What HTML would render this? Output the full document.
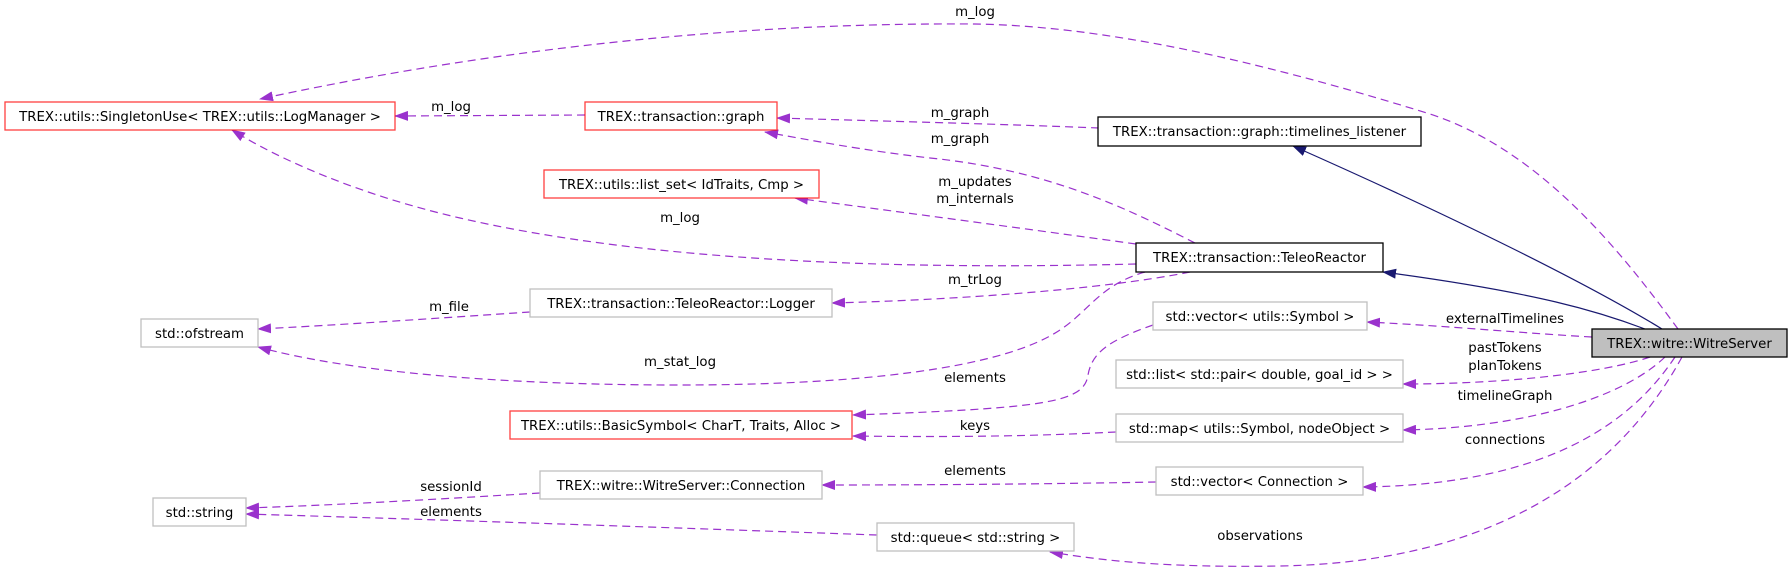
<!DOCTYPE html>
<html><head><meta charset="utf-8"><style>
html,body{margin:0;padding:0;background:#fff;}
svg{display:block;}
text{font-family:"DejaVu Sans","Liberation Sans",sans-serif;font-size:13.3px;fill:#000;}
.l{text-anchor:middle;}
.e{fill:none;stroke:#9a32cd;stroke-width:1.2;stroke-dasharray:8,5;}
.s{fill:none;stroke:#191970;stroke-width:1.2;}
.r{fill:#fff;stroke:#ff0000;stroke-opacity:.75;stroke-width:1.3;}
.g{fill:#fff;stroke:#bfbfbf;stroke-width:1.3;}
.b{fill:#fff;stroke:#000;stroke-width:1.3;}
</style></head><body>
<svg width="1792" height="571" viewBox="0 0 1792 571" xmlns="http://www.w3.org/2000/svg">
<defs>
<marker id="ap" markerWidth="14" markerHeight="10" refX="13" refY="5" orient="auto" markerUnits="userSpaceOnUse"><path d="M0,0 L14,5 L0,10 Z" fill="#9a32cd"/></marker>
<marker id="an" markerWidth="14" markerHeight="10" refX="13" refY="5" orient="auto" markerUnits="userSpaceOnUse"><path d="M0,0 L14,5 L0,10 Z" fill="#191970"/></marker>
</defs>
<!-- edges -->
<path class="e" marker-end="url(#ap)" d="M1678,329 C1620,250 1540,150 1430,114 C1250,58 1100,26 975,24 C700,22 450,58 260,99"/>
<path class="s" marker-end="url(#an)" d="M1662,329 C1590,285 1460,220 1293,146"/>
<path class="s" marker-end="url(#an)" d="M1645,329 C1600,312 1540,293 1383,272"/>
<path class="e" marker-end="url(#ap)" d="M1592,337 C1520,333 1450,326 1367,322"/>
<path class="e" marker-end="url(#ap)" d="M1650,357 C1600,374 1500,384 1403,384"/>
<path class="e" marker-end="url(#ap)" d="M1665,357 C1620,400 1520,428 1403,430"/>
<path class="e" marker-end="url(#ap)" d="M1675,357 C1620,440 1520,485 1363,487"/>
<path class="e" marker-end="url(#ap)" d="M1682,357 C1620,470 1500,562 1280,566 C1160,568 1100,560 1050,552"/>
<path class="e" marker-end="url(#ap)" d="M585,115 L395,116"/>
<path class="e" marker-end="url(#ap)" d="M1099,128 C1000,124 880,121 777,118"/>
<path class="e" marker-end="url(#ap)" d="M1195,243 C1130,210 1050,170 930,158 C860,150 810,140 765,132"/>
<path class="e" marker-end="url(#ap)" d="M1136,244 C1020,228 900,212 795,198"/>
<path class="e" marker-end="url(#ap)" d="M1136,264 C900,270 650,262 460,218 C360,195 280,160 232,130"/>
<path class="e" marker-end="url(#ap)" d="M1190,272 C1100,290 950,300 832,303"/>
<path class="e" marker-end="url(#ap)" d="M530,312 C440,318 340,325 258,329"/>
<path class="e" marker-end="url(#ap)" d="M1145,272 C1100,285 1090,310 1060,330 C1000,370 850,385 680,385 C500,385 350,372 258,347"/>
<path class="e" marker-end="url(#ap)" d="M1153,325 C1110,340 1092,352 1088,375 C1084,402 1050,408 853,415"/>
<path class="e" marker-end="url(#ap)" d="M1116,432 C1020,437 930,437 853,436"/>
<path class="e" marker-end="url(#ap)" d="M1156,482 C1050,484 930,485 822,485"/>
<path class="e" marker-end="url(#ap)" d="M540,493 C440,499 340,505 246,508"/>
<path class="e" marker-end="url(#ap)" d="M877,535 C680,528 450,520 246,514"/>
<!-- nodes -->
<rect class="r" x="5" y="102" width="390" height="28"/><text x="200" y="121" class="l">TREX::utils::SingletonUse&lt; TREX::utils::LogManager &gt;</text>
<rect class="r" x="585" y="102" width="192" height="28"/><text x="681" y="121" class="l">TREX::transaction::graph</text>
<rect class="b" x="1098" y="117" width="323" height="29"/><text x="1259.5" y="136" class="l">TREX::transaction::graph::timelines_listener</text>
<rect class="r" x="544" y="170" width="275" height="28"/><text x="681.5" y="189" class="l">TREX::utils::list_set&lt; IdTraits, Cmp &gt;</text>
<rect class="b" x="1136" y="243" width="247" height="29"/><text x="1259.5" y="262" class="l">TREX::transaction::TeleoReactor</text>
<rect class="g" x="530" y="289" width="302" height="28"/><text x="681" y="308" class="l">TREX::transaction::TeleoReactor::Logger</text>
<rect class="g" x="141" y="319" width="117" height="28"/><text x="199.5" y="338" class="l">std::ofstream</text>
<rect class="g" x="1153" y="302" width="214" height="28"/><text x="1260" y="321" class="l">std::vector&lt; utils::Symbol &gt;</text>
<rect x="1592" y="329" width="195" height="28" fill="#bfbfbf" stroke="#000" stroke-width="1.3"/><text x="1689.5" y="348" class="l">TREX::witre::WitreServer</text>
<rect class="g" x="1116" y="360" width="287" height="28"/><text x="1259.5" y="379" class="l">std::list&lt; std::pair&lt; double, goal_id &gt; &gt;</text>
<rect class="r" x="510" y="411" width="342" height="28"/><text x="681" y="430" class="l">TREX::utils::BasicSymbol&lt; CharT, Traits, Alloc &gt;</text>
<rect class="g" x="1116" y="414" width="287" height="28"/><text x="1259.5" y="433" class="l">std::map&lt; utils::Symbol, nodeObject &gt;</text>
<rect class="g" x="540" y="471" width="282" height="28"/><text x="681" y="490" class="l">TREX::witre::WitreServer::Connection</text>
<rect class="g" x="1156" y="467" width="207" height="28"/><text x="1259.5" y="486" class="l">std::vector&lt; Connection &gt;</text>
<rect class="g" x="153" y="498" width="93" height="28"/><text x="199.5" y="517" class="l">std::string</text>
<rect class="g" x="877" y="523" width="197" height="28"/><text x="975.5" y="542" class="l">std::queue&lt; std::string &gt;</text>
<!-- labels -->
<text x="975" y="16" class="l">m_log</text>
<text x="451" y="111" class="l">m_log</text>
<text x="960" y="117" class="l">m_graph</text>
<text x="960" y="143" class="l">m_graph</text>
<text x="975" y="186" class="l">m_updates</text>
<text x="975" y="203" class="l">m_internals</text>
<text x="680" y="222" class="l">m_log</text>
<text x="975" y="284" class="l">m_trLog</text>
<text x="449" y="311" class="l">m_file</text>
<text x="1505" y="323" class="l">externalTimelines</text>
<text x="1505" y="352" class="l">pastTokens</text>
<text x="1505" y="370" class="l">planTokens</text>
<text x="680" y="366" class="l">m_stat_log</text>
<text x="975" y="382" class="l">elements</text>
<text x="1505" y="400" class="l">timelineGraph</text>
<text x="975" y="430" class="l">keys</text>
<text x="1505" y="444" class="l">connections</text>
<text x="975" y="475" class="l">elements</text>
<text x="451" y="491" class="l">sessionId</text>
<text x="451" y="516" class="l">elements</text>
<text x="1260" y="540" class="l">observations</text>
</svg>
</body></html>
